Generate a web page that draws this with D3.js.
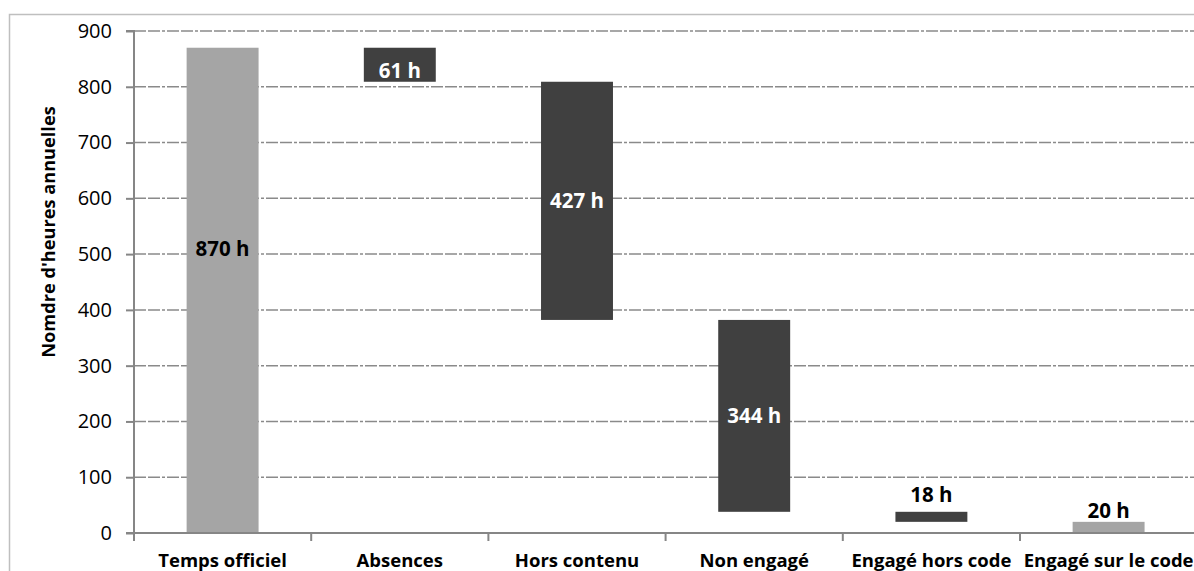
<!DOCTYPE html>
<html><head><meta charset="utf-8">
<script src="https://cdn.jsdelivr.net/npm/d3@7"></script>
<style>
html,body{margin:0;padding:0;background:#fff;}
svg{display:block;}
</style></head>
<body>
<svg id="chart" width="1194" height="571"></svg>
<script>
// ---- data ----
const categories = ["Temps officiel", "Absences", "Hors contenu", "Non engagé", "Engagé hors code", "Engagé sur le code"];
const barStart = [0, 809, 382, 38, 20, 0];
const barEnd   = [870, 870, 809, 382, 38, 20];
const labels   = ["870 h", "61 h", "427 h", "344 h", "18 h", "20 h"];
const barTone  = ["light", "dark", "dark", "dark", "dark", "light"];
const labelInside = [true, true, true, true, false, false];
// value-axis position of each label's centre (null = centre of bar)
const labelValue = [510, 829, null, null, 68, 39.5];
const yTicks = [0, 100, 200, 300, 400, 500, 600, 700, 800, 900];
const yTitle = "Nomdre d'heures annuelles";

// ---- layout ----
const svg = d3.select("#chart");
const FONT = "'Open Sans', sans-serif";
const x0 = 134, y0 = 533, yTop = 31, step = 177.2;
const x = d3.scaleBand().domain(categories).range([x0, x0 + step * categories.length]).paddingInner(0.594).paddingOuter(0.297);
const y = d3.scaleLinear().domain([0, 900]).range([y0, yTop]);

// outer border
svg.append("rect").attr("x", 9.5).attr("y", 14.5).attr("width", 1200).attr("height", 600)
  .attr("fill", "none").attr("stroke", "#bfbfbf").attr("stroke-width", 1.5);

// grid
svg.append("g").selectAll("line").data(yTicks.filter(d => d > 0)).join("line")
  .attr("x1", x0).attr("x2", 1194).attr("y1", d => y(d)).attr("y2", d => y(d))
  .attr("stroke", "#8a8a8a").attr("stroke-width", 1.5).attr("stroke-dasharray", "12,2,12,2,3,2");

// bars
svg.append("g").selectAll("rect").data(categories).join("rect")
  .attr("x", d => x(d)).attr("width", x.bandwidth())
  .attr("y", (d, i) => y(barEnd[i])).attr("height", (d, i) => y(barStart[i]) - y(barEnd[i]))
  .attr("fill", (d, i) => barTone[i] === "light" ? "#a5a5a5" : "#404040");

// y axis
const yAxis = d3.axisLeft(y).tickValues(yTicks).tickSize(8).tickPadding(14).tickFormat(d3.format("d"));
const gy = svg.append("g").attr("transform", `translate(${x0},0)`).call(yAxis);
gy.select(".domain").attr("stroke", "#868686").attr("stroke-width", 2).attr("d", `M-8,${yTop}H0V${y0}`);
gy.selectAll(".tick line").attr("stroke", "#868686").attr("stroke-width", 2);
gy.selectAll(".tick text").attr("font-family", FONT).attr("font-size", 20).attr("fill", "#000");

// x axis
const xTickScale = d3.scaleLinear().domain([0, categories.length]).range([x0, x0 + step * categories.length]);
const gx = svg.append("g");
gx.append("line").attr("x1", x0 - 8).attr("x2", 1194).attr("y1", y0).attr("y2", y0)
  .attr("stroke", "#868686").attr("stroke-width", 2);
gx.selectAll("line.t").data(d3.range(0, categories.length + 1)).join("line").attr("class", "t")
  .attr("x1", d => xTickScale(d)).attr("x2", d => xTickScale(d)).attr("y1", y0).attr("y2", y0 + 8)
  .attr("stroke", "#868686").attr("stroke-width", 2);
gx.selectAll("text").data(categories).join("text")
  .attr("x", d => x(d) + x.bandwidth() / 2).attr("y", 567)
  .attr("text-anchor", "middle").attr("font-family", FONT).attr("font-weight", "bold")
  .attr("font-size", 18.5).attr("fill", "#000").text(d => d);

// bar labels
svg.append("g").selectAll("text").data(categories).join("text")
  .attr("x", d => x(d) + x.bandwidth() / 2)
  .attr("y", (d, i) => y(labelValue[i] != null ? labelValue[i] : (barStart[i] + barEnd[i]) / 2))
  .attr("dy", "0.36em")
  .attr("text-anchor", "middle").attr("font-family", FONT).attr("font-weight", "bold")
  .attr("font-size", 20.5)
  .attr("fill", (d, i) => (labelInside[i] && barTone[i] === "dark") ? "#fff" : "#000")
  .text((d, i) => labels[i]);

// y title
svg.append("text").attr("transform", "translate(55,232) rotate(-90)")
  .attr("text-anchor", "middle").attr("font-family", FONT).attr("font-weight", "bold")
  .attr("font-size", 18.2).attr("fill", "#000").text(yTitle);
</script>
</body></html>
